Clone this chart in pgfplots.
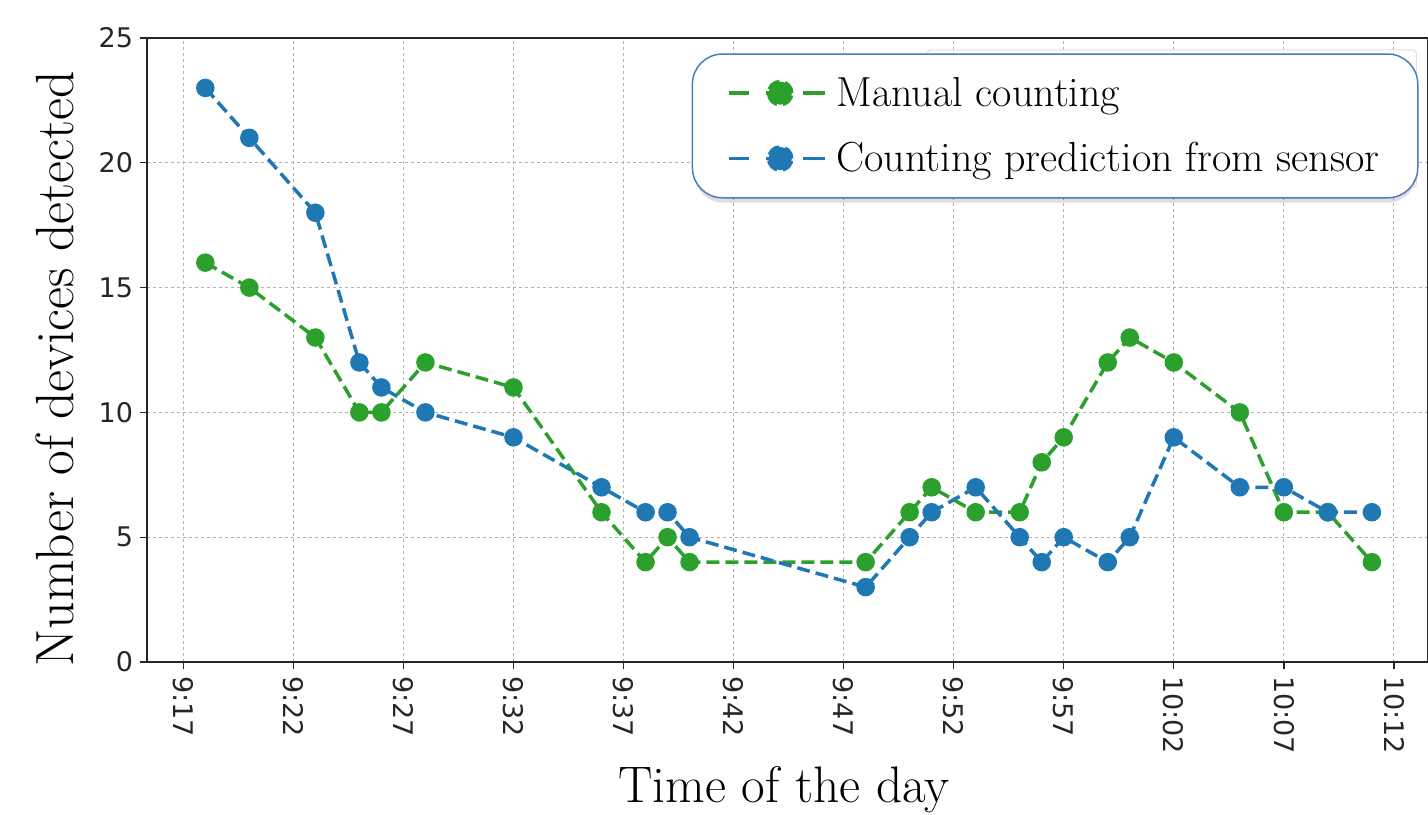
\documentclass[border=0pt]{standalone}
\usepackage{fontspec}
\usepackage{pgfplots}
\pgfplotsset{compat=1.18}
\usetikzlibrary{calc}
\newfontfamily\tickfont{DejaVu Sans}
\definecolor{mgreen}{HTML}{2CA02C}
\definecolor{mblue}{HTML}{1F77B4}
\definecolor{legblue}{HTML}{4A7EBB}
\begin{document}
\begin{tikzpicture}
\begin{axis}[
  name=ax, at={(0,0)}, anchor=south west,
  scale only axis, width=640.5bp, height=312bp,
  xmin=-1.65, xmax=56.55, ymin=0, ymax=25,
  xtick={0,5,...,55},
  xticklabels={9:17,9:22,9:27,9:32,9:37,9:42,9:47,9:52,9:57,10:02,10:07,10:12},
  ytick={0,5,...,25},
  tick align=outside, major tick length=3.5bp,
  xtick pos=bottom, ytick pos=left,
  grid=major,
  grid style={gray!60, line width=0.5bp, dash pattern=on 1.5bp off 1.5bp},
  axis line style={black!85, line width=0.7bp},
  every tick/.style={black!85, line width=0.7bp},
  tick label style={font=\tickfont\fontsize{13.5bp}{16bp}\selectfont, text=black!85},
  /pgf/number format/assume math mode=true,
  xticklabel style={rotate=-90, anchor=west},
  xlabel={Time of the day},
  ylabel={Number of devices detected},
  xlabel style={font=\fontsize{25.7bp}{30bp}\selectfont, at={(axis description cs:0.4973,-0.205)}, anchor=center},
  ylabel style={font=\fontsize{26.9bp}{31bp}\selectfont, at={(axis description cs:-0.0722,0.4696)}, anchor=center},
  legend cell align=left,
  legend style={at={(axis description cs:0.4252,0.9755)}, anchor=north west,
    draw=legblue, line width=0.75bp, rounded corners=15bp, fill=white,
    font=\fontsize{21bp}{25bp}\selectfont,
    inner xsep=17.2bp, inner ysep=9.5bp, row sep=12.6bp},
]
\fill[black, opacity=0.13, rounded corners=15bp] (rel axis cs:0.4270,0.9725) rectangle (rel axis cs:0.9915,0.7360);
\addplot[mgreen, line width=1.75bp, dash pattern=on 6.5bp off 3bp,
  mark=*, mark size=3.75bp, mark options={solid},
  legend image code/.code={
    \path[draw=none, fill=none] (0bp,0bp) -- (52bp,0bp);
    \draw[solid, line width=1.75bp, rounded corners=0pt] (0bp,0bp)--(10.3bp,0bp);
    \draw[solid, line width=1.75bp, rounded corners=0pt] (18.5bp,0bp)--(25bp,0bp);
    \draw[solid, line width=1.75bp, rounded corners=0pt] (37bp,0bp)--(48bp,0bp);
    \fill (25.8bp,0bp) circle (5.8bp);}]
  table {
x y
1 16
3 15
6 13
8 10
9 10
11 12
15 11
19 6
21 4
22 5
23 4
31 4
33 6
34 7
36 6
38 6
39 8
40 9
42 12
43 13
45 12
48 10
50 6
52 6
54 4
};
\addlegendentry{Manual counting}
\addplot[mblue, line width=1.75bp, dash pattern=on 6.5bp off 3bp,
  mark=*, mark size=3.75bp, mark options={solid},
  legend image code/.code={
    \path[draw=none, fill=none] (0bp,0bp) -- (52bp,0bp);
    \draw[solid, line width=1.75bp, rounded corners=0pt] (0bp,0bp)--(10.3bp,0bp);
    \draw[solid, line width=1.75bp, rounded corners=0pt] (18.5bp,0bp)--(25bp,0bp);
    \draw[solid, line width=1.75bp, rounded corners=0pt] (37bp,0bp)--(48bp,0bp);
    \fill (25.8bp,0bp) circle (5.8bp);}]
  table {
x y
1 23
3 21
6 18
8 12
9 11
11 10
15 9
19 7
21 6
22 6
23 5
31 3
33 5
34 6
36 7
38 5
39 4
40 5
42 4
43 5
45 9
48 7
50 7
52 6
54 6
};
\addlegendentry{Counting prediction from sensor}
\draw[gray!25, line width=0.5bp, rounded corners=2bp] (rel axis cs:0.609,0.76) rectangle (rel axis cs:0.991,0.981);
\end{axis}
\pgfresetboundingbox
\path[use as bounding box] ($(ax.south west)+(-73.5bp,-76.5bp)$) rectangle ($(ax.north east)+(0bp,19bp)$);
\end{tikzpicture}
\end{document}
